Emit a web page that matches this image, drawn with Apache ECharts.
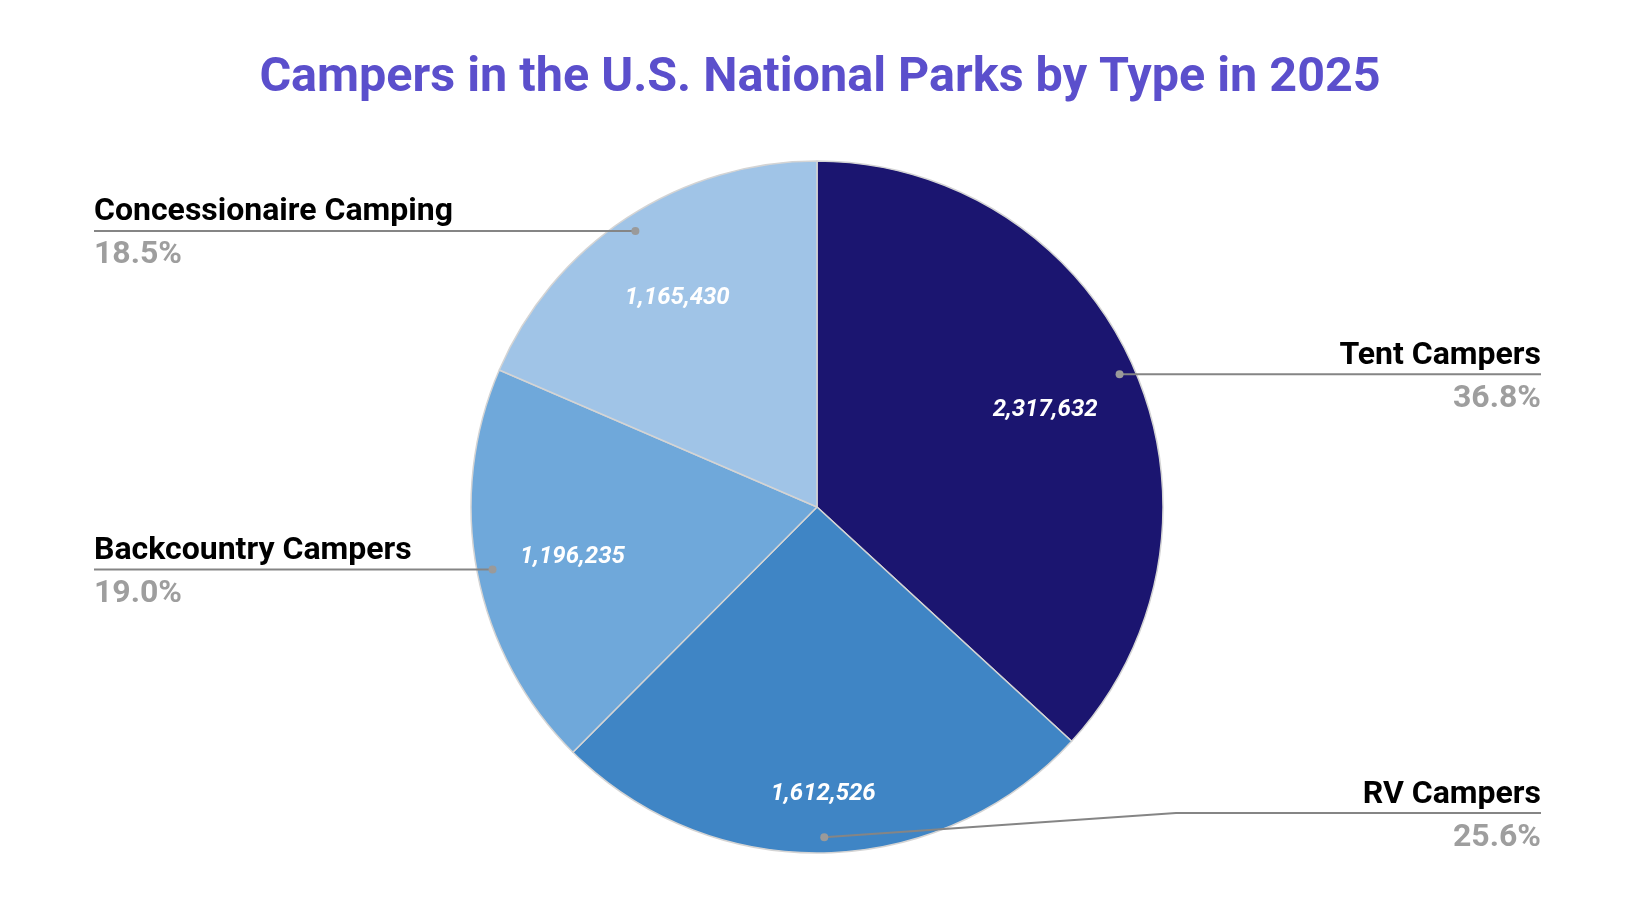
<!DOCTYPE html>
<html><head><meta charset="utf-8">
<script src="https://cdn.jsdelivr.net/npm/echarts@6/dist/echarts.min.js"></script>
<style>html,body{margin:0;padding:0;background:#fff}#c{width:1640px;height:904px}</style>
</head><body><div id="c"></div>
<script>
const titleText = 'Campers in the U.S. National Parks by Type in 2025';
const categories = ['Tent Campers', 'RV Campers', 'Backcountry Campers', 'Concessionaire Camping'];
const values = [2317632, 1612526, 1196235, 1165430];
const colors = ['#1b1570', '#3f85c5', '#6fa8da', '#a0c4e7'];

const W = 1640, H = 904;
const CX = 817, CY = 507, R = 346;
const DOT_FRAC = 0.955;
const VALUE_FRAC = [0.72, 0.82, 0.72, 0.735];
const LEFT_EDGE = 94, RIGHT_EDGE = 1541;
const FONT = 'Roboto';

const chart = echarts.init(document.getElementById('c'), null, { renderer: 'canvas', width: W, height: H });

const basePie = {
  type: 'pie',
  center: [CX, CY],
  radius: [0, R],
  startAngle: 90,
  clockwise: true,
  silent: true,
  emphasis: { disabled: true }
};

const option = {
  animation: false,
  backgroundColor: '#ffffff',
  title: {
    text: titleText,
    left: 'center',
    top: 54,
    padding: 0,
    textStyle: { fontFamily: FONT, fontSize: 48.5, fontWeight: 'bold', color: '#5b4fcc' }
  },
  series: [
    Object.assign({}, basePie, {
      z: 2,
      itemStyle: { borderColor: '#d4d4d4', borderWidth: 1.5 },
      data: categories.map((c, i) => ({ name: c, value: values[i], itemStyle: { color: colors[i] } })),
      label: { show: false },
      labelLine: { show: false }
    }),
    Object.assign({}, basePie, {
      z: 3,
      itemStyle: { color: 'rgba(0,0,0,0)', borderWidth: 0 },
      data: categories.map((c, i) => ({ name: c, value: values[i] })),
      label: {
        show: true,
        position: 'outer',
        fontFamily: FONT,
        formatter: function (p) { return '{n|' + p.name + '}\n{p|' + p.percent.toFixed(1) + '%}'; },
        rich: {
          n: { fontFamily: FONT, fontSize: 32, fontWeight: 'bold', color: '#000000', lineHeight: 43 },
          p: { fontFamily: FONT, fontSize: 32, fontWeight: 'bold', color: '#9e9e9e', lineHeight: 43 }
        }
      },
      labelLine: { show: true, smooth: false, lineStyle: { color: '#858585', width: 2 } },
      labelLayout: function (p) {
        const pts = p.labelLinePoints;
        const ex = pts[0][0], ey = pts[0][1];
        const dx = CX + (ex - CX) * DOT_FRAC, dy = CY + (ey - CY) * DOT_FRAC;
        const isLeft = dx < CX;
        const lineY = Math.min(dy, H - 91);
        const edgeX = isLeft ? LEFT_EDGE : RIGHT_EDGE;
        let linePts;
        if (Math.abs(lineY - dy) < 0.5) {
          linePts = [[dx, dy], [(dx + edgeX) / 2, dy], [edgeX, dy]];
        } else {
          const bendX = isLeft ? edgeX + 365 : edgeX - 365;
          linePts = [[dx, dy], [bendX, lineY], [edgeX, lineY]];
        }
        return { x: edgeX, y: lineY + 3, align: isLeft ? 'left' : 'right', verticalAlign: 'middle', labelLinePoints: linePts };
      }
    }),
    Object.assign({}, basePie, {
      z: 4,
      itemStyle: { color: 'rgba(0,0,0,0)', borderWidth: 0 },
      data: categories.map((c, i) => ({ name: c, value: values[i] })),
      label: {
        show: true,
        position: 'inside',
        fontFamily: FONT,
        fontSize: 24,
        fontWeight: 'bold',
        fontStyle: 'italic',
        color: '#ffffff',
        formatter: function (p) { return p.value.toLocaleString('en-US'); }
      },
      labelLine: { show: false },
      labelLayout: function (p) {
        const r = p.labelRect;
        const lx = r.x + r.width / 2, ly = r.y + r.height / 2;
        const vx = lx - CX, vy = ly - CY;
        const d = Math.hypot(vx, vy) || 1;
        const f = VALUE_FRAC[p.dataIndex];
        return { x: CX + vx / d * f * R, y: CY + vy / d * f * R + 3, align: 'center', verticalAlign: 'middle' };
      }
    })
  ]
};

chart.setOption(option);

const sData = chart.getModel().getSeriesByIndex(0).getData();
const dots = [];
for (let i = 0; i < sData.count(); i++) {
  const l = sData.getItemLayout(i);
  const m = (l.startAngle + l.endAngle) / 2;
  dots.push({
    type: 'circle',
    silent: true,
    z: 100,
    shape: { cx: l.cx + l.r * DOT_FRAC * Math.cos(m), cy: l.cy + l.r * DOT_FRAC * Math.sin(m), r: 4 },
    style: { fill: '#9a9a9a' }
  });
}
chart.setOption({ graphic: dots });
</script>
</body></html>
